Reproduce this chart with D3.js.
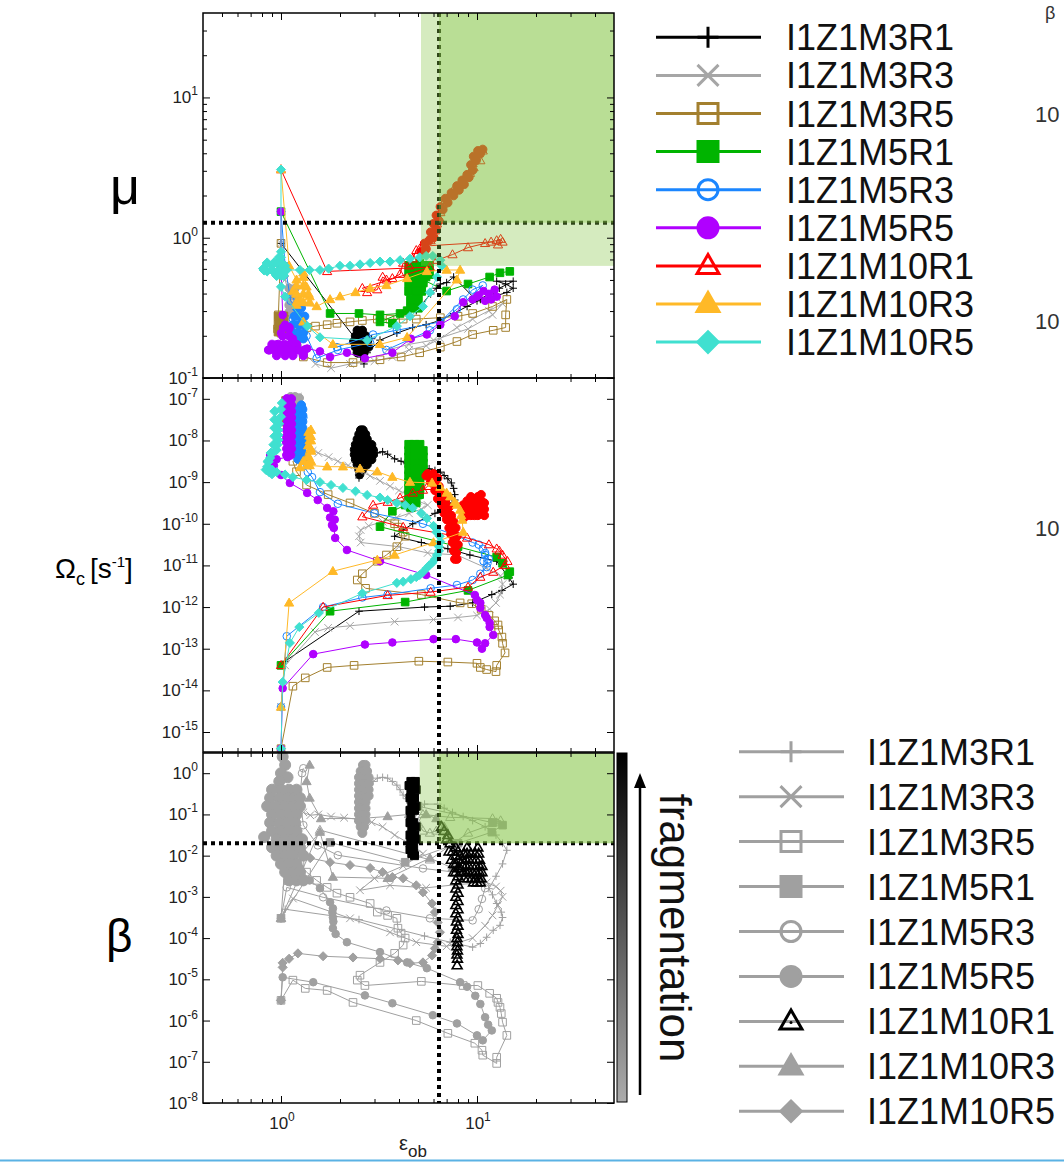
<!DOCTYPE html>
<html>
<head>
<meta charset="utf-8">
<script src="https://cdn.jsdelivr.net/npm/d3@7"></script>
<style>
  body { margin: 0; background: #fff; }
  svg { display: block; font-family: "Liberation Sans", Arial, Helvetica, sans-serif; }
</style>
</head>
<body>
<div id="chart"></div>
<script>
// ---- series ----
var seriesNames = ['I1Z1M3R1', 'I1Z1M3R3', 'I1Z1M3R5', 'I1Z1M5R1', 'I1Z1M5R3', 'I1Z1M5R5', 'I1Z1M10R1', 'I1Z1M10R3', 'I1Z1M10R5'];
var seriesColors = ['#000000', '#a6a6a6', '#a3802f', '#00b400', '#1b86ff', '#b000ff', '#ff0000', '#ffb927', '#40e0d0'];
var seriesSymbols = ['plus', 'cross', 'square', 'squareFill', 'circle', 'circleFill', 'triangle', 'triangleFill', 'diamondFill'];
var clusterSymbols = ['circleFill', 'circleFill', 'squareFill', 'squareFill', 'circleFill', 'circleFill', 'circleFill', 'triangleFill', 'diamondFill'];

// ---- ticks ----
var xMajorTicks = [1, 10];
var xMinorTicks = [0.5, 0.6, 0.7, 0.8, 0.9, 2, 3, 4, 5, 6, 7, 8, 9, 20, 30, 40];
var muMajorExp = [1, 0, -1];
var muMinorTicks = [0.2, 0.3, 0.4, 0.5, 0.6, 0.7, 0.8, 0.9, 2, 3, 4, 5, 6, 7, 8, 9, 20, 30];
var omegaMajorExp = [-7, -8, -9, -10, -11, -12, -13, -14, -15];
var betaMajorExp = [0, -1, -2, -3, -4, -5, -6, -7, -8];

// ---- thresholds ----
var epsCrit = 6.4, muCrit = 1.28, betaCrit = 0.02;
var muGreenEps = 5.18, muGreenLow = 0.63, betaGreenEps = 5.1;

// ---- top panel: [eps_ob, log10 mu] ----
var muM3R1 = [[1.0,-0.04],[2.4,-0.72],[2.5,-0.8],[2.45,-0.66],[2.6,-0.75],[2.7,-0.68],[2.8,-0.78],[2.55,-0.85],[2.65,-0.9],[2.9,-0.72],[2.5,-0.7],[2.75,-0.82],[3.2,-0.73],[3.9,-0.68],[4.7,-0.64],[5.5,-0.62],[6.47,-0.59],[7.6,-0.54],[8.9,-0.49],[10.4,-0.44],[12.1,-0.42],[14.2,-0.39],[15.3,-0.36],[14.0,-0.33],[12.6,-0.31],[15.3,-0.31],[13.0,-0.36],[10.0,-0.45],[7.6,-0.28],[7.0,-0.32],[6.5,-0.33],[6.2,-0.36],[5.8,-0.4],[5.2,-0.48],[4.9,-0.52]];
var muM3R3 = [[1.0,-0.04],[1.05,-0.3],[1.1,-0.4],[1.15,-0.35],[1.12,-0.45],[1.18,-0.5],[1.1,-0.52],[1.2,-0.42],[1.15,-0.55],[1.3,-0.82],[1.5,-0.9],[1.8,-0.93],[2.25,-0.9],[3.0,-0.88],[3.7,-0.85],[4.5,-0.8],[5.5,-0.77],[6.5,-0.72],[7.9,-0.64],[9.5,-0.58],[11.5,-0.52],[13.5,-0.47],[12.0,-0.55],[9.0,-0.65],[6.0,-0.73],[4.5,-0.76],[3.5,-0.8]];
var muM3R5 = [[1.0,-0.04],[0.97,-0.55],[1.02,-0.6],[0.96,-0.65],[1.04,-0.58],[1.0,-0.68],[0.98,-0.62],[1.05,-0.66],[1.36,-0.64],[1.5,-0.63],[1.72,-0.62],[1.93,-0.61],[2.25,-0.6],[2.6,-0.59],[3.1,-0.58],[3.6,-0.58],[4.2,-0.58],[4.9,-0.58],[6.5,-0.57],[8.0,-0.56],[9.5,-0.54],[12.0,-0.49],[14.2,-0.44],[14.0,-0.55],[14.0,-0.64],[12.1,-0.66],[9.5,-0.69],[7.9,-0.74],[6.5,-0.78],[5.1,-0.82],[4.1,-0.85],[3.2,-0.87],[2.33,-0.89],[1.72,-0.89],[1.3,-0.85]];
var muM5R1 = [[1.0,0.186],[1.78,-0.54],[2.5,-0.54],[3.2,-0.55],[4.05,-0.54],[3.2,-0.6],[3.7,-0.61],[4.4,-0.52],[4.6,-0.45],[4.5,-0.38],[4.7,-0.32],[4.5,-0.26],[4.8,-0.2],[5.1,-0.18],[5.4,-0.2],[5.5,-0.28],[5.2,-0.35],[5.0,-0.42],[4.8,-0.48],[4.6,-0.5],[5.0,-0.25],[5.3,-0.3],[7.0,-0.38],[9.0,-0.33],[11.6,-0.28],[13.1,-0.25],[14.7,-0.24]];
var muM5R3 = [[1.0,0.186],[1.05,-0.2],[1.12,-0.45],[1.2,-0.5],[1.15,-0.58],[1.25,-0.62],[1.18,-0.68],[1.3,-0.66],[1.22,-0.72],[1.35,-0.7],[1.52,-0.86],[1.95,-0.8],[2.85,-0.75],[3.45,-0.8],[5.75,-0.66],[7.9,-0.51],[10.7,-0.34],[9.5,-0.37],[8.5,-0.44],[6.5,-0.6],[3.9,-0.66],[2.95,-0.69],[1.93,-0.78]];
var muM5R5 = [[1.0,0.186],[1.0,-0.2],[1.02,-0.55],[1.05,-0.62],[1.0,-0.68],[1.1,-0.65],[1.15,-0.72],[0.86,-0.8],[0.9,-0.78],[0.95,-0.76],[1.0,-0.8],[1.05,-0.78],[1.1,-0.82],[1.2,-0.8],[1.3,-0.83],[1.36,-0.79],[1.58,-0.81],[1.78,-0.85],[2.17,-0.82],[2.68,-0.86],[3.7,-0.82],[4.6,-0.72],[5.55,-0.69],[6.5,-0.62],[7.7,-0.56],[8.5,-0.46],[9.5,-0.44],[10.2,-0.41],[10.8,-0.38],[11.5,-0.4],[12.3,-0.37],[12.6,-0.42],[11.8,-0.44],[11.0,-0.45],[10.0,-0.42]];
var muM10R1 = [[1.0,0.486],[1.72,-0.24],[5.75,-0.21],[2.6,-0.36],[2.75,-0.39],[3.1,-0.37],[3.3,-0.28],[3.45,-0.3],[3.7,-0.29],[4.05,-0.26],[4.2,-0.18],[4.5,-0.2],[4.7,-0.15],[4.9,-0.09],[5.1,-0.08],[5.3,-0.11],[6.25,-0.16],[7.5,-0.12],[9.0,-0.07],[11.0,-0.04],[12.6,-0.02],[13.2,-0.01],[13.5,-0.03],[12.8,-0.05],[11.8,-0.03],[5.3,-0.06],[5.6,-0.02],[6.0,0.03],[6.25,0.1],[6.5,0.18],[6.7,0.24],[7.2,0.3],[7.9,0.36],[8.5,0.41],[9.2,0.46],[9.5,0.53],[9.8,0.58],[10.2,0.6],[10.7,0.62],[10.4,0.55],[9.6,0.5],[8.9,0.44],[8.2,0.38],[7.5,0.33],[6.9,0.27],[6.4,0.14],[6.1,0.05],[5.8,-0.02]];
var muM10R3 = [[1.0,0.486],[1.1,-0.2],[1.2,-0.3],[1.15,-0.38],[1.25,-0.45],[1.35,-0.35],[1.3,-0.25],[1.4,-0.42],[1.2,-0.48],[1.52,-0.49],[1.78,-0.44],[2.0,-0.42],[2.4,-0.39],[2.85,-0.36],[3.45,-0.34],[4.4,-0.29],[5.55,-0.24],[7.0,-0.23],[8.2,-0.23],[7.9,-0.3],[4.4,-0.71],[3.2,-0.76],[1.84,-0.76],[1.3,-0.6]];
var muM10R5 = [[1.0,0.486],[1.0,-0.1],[0.95,-0.18],[0.85,-0.24],[0.81,-0.22],[0.9,-0.2],[1.0,-0.14],[1.05,-0.2],[1.0,-0.27],[0.95,-0.25],[1.07,-0.23],[1.25,-0.23],[1.4,-0.23],[1.58,-0.23],[1.75,-0.22],[2.0,-0.2],[2.25,-0.2],[2.53,-0.19],[2.85,-0.18],[3.2,-0.17],[3.6,-0.17],[4.05,-0.16],[4.55,-0.15],[5.1,-0.14],[5.5,-0.13],[5.95,-0.13],[6.5,-0.16],[6.6,-0.2],[6.25,-0.28],[5.75,-0.39],[5.3,-0.49],[4.55,-0.56],[3.9,-0.63],[2.75,-0.73],[1.58,-0.71],[1.36,-0.63],[1.05,-0.42],[1.0,-0.35]];
// densely overlapping marker clusters in the top panel
var muClusterM3R1 = [[2.45,-0.66],[2.6,-0.66],[2.4,-0.7],[2.5,-0.7],[2.6,-0.7],[2.7,-0.7],[2.35,-0.74],[2.45,-0.74],[2.55,-0.74],[2.65,-0.74],[2.75,-0.74],[2.4,-0.78],[2.5,-0.78],[2.6,-0.78],[2.7,-0.78],[2.8,-0.78],[2.45,-0.82],[2.55,-0.82],[2.65,-0.82]];
var muClusterM3R3 = [[1.1,-0.36],[1.18,-0.36],[1.1,-0.42],[1.18,-0.42],[1.1,-0.48],[1.18,-0.48],[1.1,-0.53],[1.18,-0.53]];
var muClusterM3R5 = [[0.97,-0.56],[1.03,-0.56],[0.97,-0.62],[1.03,-0.62],[0.97,-0.67],[1.03,-0.67]];
var muClusterM5R1 = [[4.5,-0.2],[4.9,-0.2],[5.3,-0.2],[5.7,-0.2],[4.5,-0.26],[4.9,-0.26],[5.3,-0.26],[5.7,-0.26],[4.5,-0.32],[4.9,-0.32],[5.3,-0.32],[4.5,-0.38],[4.9,-0.38],[5.2,-0.38],[4.6,-0.44],[5.0,-0.44],[4.6,-0.5],[5.0,-0.5]];
var muClusterM5R3 = [[1.2,-0.5],[1.27,-0.5],[1.17,-0.56],[1.25,-0.56],[1.32,-0.56],[1.15,-0.62],[1.23,-0.62],[1.31,-0.62],[1.15,-0.68],[1.23,-0.68],[1.3,-0.68],[1.2,-0.72],[1.3,-0.72]];
var muClusterM5R5 = [[1.03,-0.64],[1.1,-0.64],[1.02,-0.7],[1.1,-0.7],[0.9,-0.76],[0.97,-0.76],[1.04,-0.76],[1.12,-0.76],[1.2,-0.76],[0.87,-0.8],[0.93,-0.8],[1.0,-0.8],[1.07,-0.8],[1.15,-0.8],[1.23,-0.8],[1.32,-0.8],[0.95,-0.84],[1.05,-0.84],[1.15,-0.84],[1.3,-0.84]];
var muClusterM10R1 = [[5.2,-0.1],[5.5,-0.08],[5.4,-0.04],[5.7,-0.02],[5.8,0.04],[6.0,0.0],[6.0,0.1],[6.2,0.06],[6.2,0.16],[6.4,0.12],[6.5,0.22],[6.7,0.2],[6.9,0.28],[7.1,0.25],[7.4,0.32],[7.6,0.3],[7.9,0.37],[8.1,0.34],[8.4,0.41],[8.6,0.38],[8.9,0.45],[9.1,0.43],[9.3,0.52],[9.5,0.48],[9.6,0.58],[9.9,0.55],[10.1,0.62],[10.4,0.6],[10.7,0.63]];
var muClusterM10R3 = [[1.3,-0.28],[1.2,-0.34],[1.3,-0.34],[1.2,-0.4],[1.3,-0.4],[1.38,-0.4],[1.2,-0.46],[1.3,-0.46],[1.4,-0.46]];
var muClusterM10R5 = [[0.98,-0.14],[0.85,-0.18],[0.92,-0.18],[1.0,-0.18],[0.82,-0.23],[0.9,-0.23],[0.98,-0.23],[1.05,-0.23],[0.95,-0.27],[1.03,-0.27]];

// ---- middle panel: [eps_ob, log10 Omega_c] ----
var omegaM3R1 = [[1.0,-13.4],[1.05,-13.3],[2.5,-12.1],[5.4,-12.0],[7.3,-11.98],[9.5,-11.9],[11.9,-11.7],[13.4,-11.6],[15.3,-11.45],[14.6,-11.3],[12.6,-10.9],[9.2,-10.75],[7.1,-10.6],[5.2,-10.45],[3.8,-10.3],[4.2,-10.15],[4.7,-10.0],[5.5,-9.86],[6.1,-9.75],[6.7,-9.62],[7.2,-9.52],[7.7,-9.43],[7.7,-9.3],[7.6,-9.15],[7.4,-9.02],[7.1,-8.92],[6.8,-8.84],[6.5,-8.76],[6.1,-8.72],[5.7,-8.68],[5.2,-8.66],[4.8,-8.62],[4.4,-8.56],[4.1,-8.5],[3.8,-8.44],[3.5,-8.33],[3.3,-8.27],[3.1,-8.3],[2.95,-8.4],[2.8,-8.55],[2.65,-8.7],[2.55,-8.8],[2.5,-8.9]];
var omegaM3R3 = [[1.0,-14.4],[1.05,-13.4],[1.49,-12.6],[1.74,-12.5],[2.25,-12.45],[3.8,-12.35],[6.0,-12.3],[8.0,-12.25],[10.0,-12.2],[11.6,-12.05],[12.5,-11.9],[13.1,-11.7],[13.5,-11.45],[13.2,-11.25],[11.0,-11.05],[7.9,-10.75],[5.6,-10.7],[4.0,-10.55],[2.55,-10.45],[2.5,-10.3],[2.55,-10.15],[2.8,-10.05],[3.3,-9.95],[3.9,-9.85],[4.5,-9.75],[5.2,-9.65],[5.6,-9.55],[5.0,-9.45],[4.4,-9.3],[4.0,-9.2],[3.6,-9.1],[3.2,-8.97],[2.85,-8.85],[2.5,-8.72],[2.2,-8.6],[1.95,-8.5],[1.75,-8.4],[1.55,-8.3],[1.45,-8.25],[1.35,-8.3],[1.3,-8.2],[1.25,-7.9],[1.22,-7.6],[1.2,-7.3],[1.18,-7.1],[1.22,-6.95],[1.25,-7.05],[1.15,-7.0]];
var omegaM3R5 = [[1.0,-15.4],[1.15,-13.9],[1.33,-13.7],[1.72,-13.45],[2.36,-13.4],[5.05,-13.3],[7.1,-13.32],[10.0,-13.35],[10.4,-13.45],[11.2,-13.5],[12.5,-13.55],[12.6,-13.4],[13.9,-13.1],[13.5,-12.87],[13.4,-12.72],[12.9,-12.55],[12.8,-12.43],[12.3,-12.33],[11.5,-12.2],[10.5,-12.05],[9.4,-11.92],[8.2,-11.9],[5.2,-11.7],[2.7,-11.55],[2.45,-11.35],[2.6,-11.2],[3.1,-10.9],[3.45,-10.75],[3.9,-10.55],[4.3,-10.3],[4.2,-10.2],[3.95,-10.08],[3.8,-10.0],[3.0,-9.75],[2.25,-9.5],[1.74,-9.3],[1.35,-9.07],[1.2,-8.75],[1.15,-8.5],[1.3,-8.4],[1.35,-8.35],[1.2,-8.2],[1.1,-7.9],[1.08,-7.6],[1.07,-7.4],[1.06,-7.2],[1.07,-7.05]];
var omegaM5R1 = [[1.0,-13.4],[1.78,-12.1],[4.3,-11.88],[9.0,-11.6],[14.4,-11.23],[14.7,-11.15],[13.5,-10.95],[12.6,-10.8],[8.0,-10.55],[3.2,-10.07],[3.7,-9.7],[4.3,-9.55],[4.6,-9.4],[4.9,-9.5],[5.1,-9.3],[4.5,-9.2],[4.6,-9.0],[4.8,-9.1],[5.1,-8.95],[4.5,-8.8],[4.7,-8.6],[5.0,-8.7],[5.3,-8.8],[4.5,-8.4],[4.7,-8.2],[5.0,-8.15],[5.2,-8.3],[5.3,-8.55],[4.6,-8.1]];
var omegaM5R3 = [[1.0,-14.4],[1.07,-12.7],[1.64,-12.0],[2.6,-11.77],[3.5,-11.7],[5.8,-11.55],[7.9,-11.47],[9.5,-11.35],[10.4,-11.2],[11.2,-11.04],[11.3,-10.95],[10.8,-10.9],[11.0,-10.75],[11.5,-10.85],[11.0,-10.7],[10.7,-10.6],[10.2,-10.5],[9.5,-10.45],[7.5,-10.25],[5.3,-10.0],[3.0,-9.75],[1.95,-9.52],[1.58,-9.24],[1.44,-8.88],[1.37,-8.76],[1.3,-8.6],[1.28,-8.4],[1.32,-8.2],[1.28,-8.0],[1.3,-7.8],[1.26,-7.6],[1.3,-7.45],[1.28,-7.3],[1.25,-7.2]];
var omegaM5R5 = [[1.0,-15.4],[1.02,-13.95],[1.46,-13.13],[2.68,-12.9],[3.7,-12.85],[6.0,-12.77],[7.8,-12.77],[10.0,-12.85],[10.6,-13.0],[11.0,-12.87],[12.1,-12.67],[11.6,-12.48],[11.6,-12.38],[11.2,-12.26],[11.0,-12.19],[10.4,-12.02],[10.4,-11.9],[10.0,-11.83],[9.75,-11.71],[5.5,-11.23],[3.2,-10.9],[2.17,-10.63],[1.89,-10.34],[1.86,-10.1],[1.82,-10.03],[1.88,-9.9],[1.78,-9.85],[1.85,-9.7],[1.72,-9.62],[1.54,-9.43],[1.36,-9.26],[1.11,-9.02],[1.0,-8.83],[0.92,-8.6],[0.88,-8.35],[0.95,-8.45],[1.08,-8.4],[1.1,-8.2],[1.06,-8.0],[1.12,-7.8],[1.08,-7.6],[1.1,-7.4],[1.07,-7.2],[1.1,-7.05]];
var omegaM10R1 = [[1.0,-13.4],[1.64,-12.0],[3.5,-11.72],[5.8,-11.64],[9.0,-11.52],[10.4,-11.28],[12.1,-11.16],[13.9,-11.0],[14.3,-10.9],[13.5,-10.75],[13.0,-10.65],[12.6,-10.6],[11.5,-10.5],[8.9,-10.34],[4.2,-10.08],[2.6,-9.83],[2.95,-9.55],[3.5,-9.48],[4.05,-9.38],[4.7,-9.26],[5.3,-9.19],[5.6,-9.1],[5.8,-8.95]];
var omegaM10R3 = [[1.0,-14.4],[1.1,-11.9],[1.84,-11.14],[3.1,-10.87],[3.8,-10.75],[6.0,-10.45],[8.5,-10.2],[8.4,-9.91],[8.3,-9.8],[8.2,-9.67],[7.9,-9.55],[7.7,-9.48],[7.3,-9.35],[7.0,-9.26],[6.5,-9.12],[5.9,-9.02],[4.55,-9.0],[3.7,-8.88],[3.1,-8.75],[2.53,-8.68],[2.07,-8.63],[1.72,-8.63],[1.4,-8.6],[1.38,-8.4],[1.42,-8.2],[1.4,-8.0],[1.38,-7.8],[1.42,-7.9],[1.3,-8.5],[1.25,-8.65]];
var omegaM10R5 = [[1.0,-15.4],[1.02,-13.8],[1.11,-12.86],[1.24,-12.48],[1.56,-12.14],[2.6,-11.67],[3.9,-11.42],[4.2,-11.39],[4.6,-11.33],[4.9,-11.28],[5.1,-11.23],[5.3,-11.16],[5.55,-11.06],[5.7,-11.0],[5.9,-10.94],[6.1,-10.85],[6.25,-10.75],[6.4,-10.65],[6.4,-10.55],[6.5,-10.43],[6.45,-10.3],[6.2,-10.2],[6.0,-10.05],[5.55,-9.87],[5.2,-9.75],[4.7,-9.62],[4.3,-9.55],[3.9,-9.5],[3.5,-9.43],[3.2,-9.37],[2.75,-9.31],[2.4,-9.22],[2.07,-9.14],[1.8,-9.07],[1.58,-9.0],[1.35,-8.95],[1.15,-8.88],[1.05,-8.82],[0.95,-8.76],[0.9,-8.7],[0.85,-8.63],[0.86,-8.52],[0.88,-8.42],[0.9,-8.32],[0.95,-8.23],[0.96,-8.1],[0.97,-7.99],[0.97,-7.87],[0.97,-7.75],[0.98,-7.6],[1.0,-7.43],[1.0,-7.25],[1.01,-7.1]];
// densely overlapping marker clusters in the middle panel
var omegaClusterM3R1 = [[2.55,-7.75],[2.62,-7.75],[2.5,-7.85],[2.6,-7.85],[2.7,-7.85],[2.45,-7.97],[2.55,-7.97],[2.65,-7.97],[2.75,-7.97],[2.4,-8.1],[2.5,-8.1],[2.6,-8.1],[2.7,-8.1],[2.8,-8.1],[2.9,-8.1],[2.37,-8.22],[2.47,-8.22],[2.57,-8.22],[2.67,-8.22],[2.77,-8.22],[2.87,-8.22],[2.95,-8.22],[2.37,-8.34],[2.47,-8.34],[2.57,-8.34],[2.67,-8.34],[2.77,-8.34],[2.87,-8.34],[2.95,-8.34],[2.4,-8.46],[2.5,-8.46],[2.6,-8.46],[2.7,-8.46],[2.8,-8.46],[2.9,-8.46],[2.45,-8.58],[2.55,-8.58],[2.65,-8.58],[2.75,-8.58],[2.5,-8.7],[2.6,-8.7],[2.52,-8.82]];
var omegaClusterM3R3 = [[1.12,-6.95],[1.18,-6.95],[1.24,-6.98],[1.15,-7.05],[1.21,-7.08],[1.18,-7.15]];
var omegaClusterM3R5 = [[1.06,-7.05],[1.07,-7.18],[1.07,-7.3],[1.08,-7.42],[1.06,-7.55]];
var omegaClusterM5R1 = [[4.5,-8.1],[4.8,-8.1],[5.1,-8.1],[4.5,-8.25],[4.8,-8.25],[5.1,-8.25],[5.3,-8.25],[4.5,-8.4],[4.8,-8.4],[5.1,-8.4],[5.3,-8.4],[4.5,-8.55],[4.8,-8.55],[5.1,-8.55],[5.3,-8.55],[4.5,-8.7],[4.8,-8.7],[5.1,-8.7],[5.3,-8.7],[4.5,-8.85],[4.8,-8.85],[5.1,-8.85],[4.5,-9.0],[4.8,-9.0],[5.1,-9.0],[4.5,-9.15],[4.8,-9.15],[5.1,-9.15],[4.5,-9.3],[4.8,-9.3],[5.0,-9.3],[4.5,-9.45],[4.8,-9.45],[4.6,-9.6]];
var omegaClusterM5R3 = [[1.27,-7.15],[1.22,-7.25],[1.29,-7.25],[1.22,-7.4],[1.29,-7.4],[1.22,-7.55],[1.29,-7.55],[1.22,-7.7],[1.29,-7.7],[1.22,-7.85],[1.29,-7.85],[1.22,-8.0],[1.29,-8.0],[1.22,-8.15],[1.29,-8.15],[1.22,-8.3],[1.29,-8.3],[1.22,-8.45],[1.29,-8.45]];
var omegaClusterM5R5 = [[1.07,-7.0],[1.13,-7.0],[1.07,-7.15],[1.13,-7.15],[1.07,-7.3],[1.13,-7.3],[1.07,-7.45],[1.13,-7.45],[1.07,-7.6],[1.13,-7.6],[1.07,-7.75],[1.13,-7.75],[1.07,-7.9],[1.13,-7.9],[1.07,-8.05],[1.13,-8.05],[1.07,-8.2],[1.13,-8.2],[1.07,-8.35],[1.12,-8.35]];
var omegaClusterM10R1 = [[5.6,-8.8],[6.0,-8.8],[6.3,-8.9],[5.5,-8.85],[5.8,-8.85],[6.1,-8.95],[5.8,-9.0],[6.1,-9.05],[6.4,-9.1],[6.1,-9.2],[6.4,-9.25],[6.7,-9.3],[6.3,-9.4],[6.6,-9.4],[6.9,-9.45],[6.6,-9.55],[6.9,-9.6],[7.2,-9.6],[6.8,-9.75],[7.1,-9.75],[7.4,-9.8],[7.0,-9.9],[7.3,-9.95],[7.6,-9.95],[7.2,-10.1],[7.5,-10.1],[7.8,-10.1],[7.35,-10.25],[7.65,-10.3],[7.9,-10.3],[7.5,-10.45],[7.75,-10.5],[8.0,-10.5],[7.6,-10.65],[7.85,-10.7],[7.7,-10.85],[7.9,-10.85],[8.9,-9.8],[10.1,-9.8],[8.5,-9.55],[8.5,-9.7],[8.6,-9.85],[8.9,-9.45],[8.9,-9.6],[9.3,-9.35],[9.3,-9.5],[9.3,-9.65],[9.3,-9.8],[9.7,-9.5],[9.7,-9.65],[9.7,-9.8],[10.1,-9.35],[10.1,-9.5],[10.1,-9.65],[10.5,-9.3],[10.5,-9.45],[10.5,-9.6],[10.5,-9.75],[10.9,-9.5],[10.9,-9.65],[10.9,-9.8]];
var omegaClusterM10R3 = [[1.42,-7.75],[1.4,-7.88],[1.42,-8.0],[1.38,-8.12],[1.42,-8.25],[1.38,-8.38],[1.42,-8.5],[1.36,-8.6]];
var omegaClusterM10R5 = [[0.93,-7.3],[0.93,-7.5],[0.93,-7.7],[0.93,-7.9],[0.92,-8.1],[0.89,-8.3],[0.86,-8.5],[0.84,-8.7],[0.9,-8.8],[0.87,-8.75]];

// ---- bottom panel: [eps_ob, log10 beta] ----
var betaM3R1 = [[1.0,-3.52],[1.05,-3.3],[2.5,-3.55],[5.4,-3.95],[7.3,-4.1],[9.5,-4.22],[10.4,-4.13],[11.2,-3.98],[12.1,-3.81],[13.1,-3.69],[13.5,-3.5],[13.3,-3.37],[12.6,-3.16],[12.0,-2.95],[11.5,-2.8],[12.5,-2.5],[13.5,-2.2],[14.2,-1.87],[13.5,-1.7],[12.5,-1.5],[11.0,-1.3],[9.5,-1.15],[8.5,-1.05],[7.5,-0.95],[6.8,-0.85],[6.3,-0.75],[5.4,-0.75],[4.9,-0.95],[4.7,-0.85],[4.55,-0.73],[4.4,-0.62],[4.2,-0.53],[4.05,-0.4],[3.9,-0.29],[3.7,-0.2],[3.5,-0.12],[3.3,-0.1],[3.1,-0.12],[2.95,-0.2],[2.8,-0.29],[2.7,-0.4]];
var betaM3R3 = [[1.0,-3.52],[1.15,-3.04],[2.25,-3.52],[3.6,-3.86],[4.9,-4.1],[7.0,-4.2],[9.5,-4.0],[11.0,-3.7],[12.0,-3.45],[12.8,-3.2],[13.5,-3.0],[13.2,-2.85],[12.5,-2.75],[11.2,-2.65],[8.0,-2.7],[5.5,-2.78],[3.6,-2.72],[2.53,-2.84],[3.0,-2.55],[4.2,-2.25],[5.3,-1.95],[4.5,-1.7],[3.8,-1.5],[3.3,-1.3],[2.9,-1.19],[2.5,-1.12],[2.1,-1.08],[1.8,-1.05],[1.55,-1.0],[1.41,-1.02],[1.3,-0.95]];
var betaM3R5 = [[1.0,-5.51],[1.15,-5.02],[1.33,-5.22],[1.72,-5.27],[2.33,-5.56],[4.9,-6.0],[7.1,-6.31],[9.75,-6.55],[10.6,-6.72],[10.7,-6.84],[12.6,-7.04],[12.6,-6.89],[14.2,-6.36],[13.5,-6.04],[13.3,-5.83],[13.1,-5.68],[12.8,-5.56],[12.6,-5.46],[11.6,-5.34],[10.1,-5.15],[8.5,-5.15],[5.2,-5.05],[2.68,-5.15],[2.45,-5.02],[2.53,-4.9],[3.2,-4.59],[3.8,-4.37],[4.2,-4.17],[4.3,-4.0],[4.1,-3.88],[3.95,-3.76],[3.9,-3.52],[3.5,-3.45],[3.1,-3.37],[2.85,-3.16],[2.25,-3.01],[1.93,-2.91],[1.72,-2.77],[1.52,-2.6],[1.35,-2.4],[1.25,-2.2]];
var betaM5R1 = [[1.0,-3.52],[1.78,-1.68],[4.3,-2.16],[8.0,-1.7],[11.9,-1.43],[13.5,-1.26],[12.0,-1.2],[5.0,-0.8],[4.7,-0.7]];
var betaM5R3 = [[1.0,-3.52],[1.07,-2.77],[1.64,-3.01],[3.45,-3.33],[5.75,-3.52],[9.5,-3.57],[10.2,-3.3],[10.6,-3.05],[11.0,-2.79],[10.5,-2.6],[9.5,-2.45],[5.3,-2.31],[1.95,-1.99],[1.54,-1.75],[1.3,-1.26],[1.25,-0.6],[1.28,0.0],[1.3,0.12]];
var betaM5R5 = [[1.0,-5.51],[1.02,-4.95],[1.46,-5.07],[2.68,-5.39],[3.7,-5.58],[5.95,-5.87],[7.9,-6.07],[10.0,-6.36],[10.7,-6.48],[11.9,-6.24],[11.4,-6.1],[11.0,-5.92],[10.4,-5.6],[9.8,-5.4],[8.9,-5.18],[8.2,-5.07],[5.55,-4.73],[4.4,-4.59],[3.2,-4.34],[2.17,-4.1],[1.9,-3.9],[1.84,-3.76],[1.85,-3.6],[1.84,-3.5],[1.83,-3.38],[1.84,-3.28],[1.78,-3.13],[1.58,-2.79],[1.4,-2.6],[1.25,-2.3]];
var betaM10R1 = [[1.0,-3.52],[1.58,-1.38],[5.75,-2.1],[9.0,-1.45],[12.6,-1.2],[13.2,-1.15],[12.0,-1.1],[7.3,-1.07],[5.3,-1.0],[5.0,-1.2],[5.3,-1.4],[5.75,-1.45],[6.2,-1.4],[6.5,-1.35]];
var betaM10R3 = [[1.0,-3.52],[1.1,-0.8],[1.2,-1.2],[1.15,-1.6],[1.3,-1.9],[1.58,-1.43],[1.84,-2.52],[3.5,-2.55],[5.75,-2.06],[7.5,-2.3],[8.2,-2.55],[8.0,-2.2],[7.8,-1.9],[7.3,-1.6],[6.8,-1.3],[6.2,-1.1],[5.5,-1.0],[4.5,-1.0],[3.5,-1.05],[2.5,-1.1],[1.6,-1.1],[1.4,-0.6],[1.35,-0.2],[1.4,0.2]];
var betaM10R5 = [[1.0,-5.51],[1.02,-4.71],[1.02,-4.6],[1.1,-4.5],[1.22,-4.37],[1.64,-4.44],[2.33,-4.47],[3.2,-4.5],[3.95,-4.54],[4.55,-4.61],[5.3,-4.59],[5.9,-4.42],[6.1,-4.25],[6.3,-4.1],[6.47,-3.86],[6.3,-3.62],[6.1,-3.37],[5.9,-3.16],[5.3,-2.89],[4.9,-2.72],[4.2,-2.55],[3.7,-2.52],[3.3,-2.4],[2.85,-2.3],[2.25,-2.23],[1.78,-2.16],[1.41,-2.06],[1.2,-1.9]];
// dense clusters in the bottom panel
var betaClusterLeft = [[1.02,0.4],[1.05,0.2],[1.0,0.0],[1.08,-0.1],[0.98,-0.2],[0.9,-0.4],[1.0,-0.4],[1.1,-0.4],[1.2,-0.4],[0.88,-0.6],[0.98,-0.6],[1.08,-0.6],[1.18,-0.6],[1.25,-0.6],[0.85,-0.8],[0.95,-0.8],[1.05,-0.8],[1.15,-0.8],[1.25,-0.8],[0.9,-1.0],[1.0,-1.0],[1.1,-1.0],[1.2,-1.0],[0.88,-1.2],[0.98,-1.2],[1.08,-1.2],[1.18,-1.2],[0.9,-1.4],[1.0,-1.4],[1.1,-1.4],[1.2,-1.4],[0.82,-1.55],[0.95,-1.6],[1.05,-1.6],[1.15,-1.6],[1.28,-1.6],[0.9,-1.8],[1.0,-1.8],[1.1,-1.8],[1.25,-1.8],[0.95,-2.0],[1.05,-2.0],[1.15,-2.0],[1.3,-2.0],[1.0,-2.2],[1.1,-2.2],[1.2,-2.2],[1.05,-2.4],[1.15,-2.4],[1.25,-2.4],[1.1,-2.6],[1.2,-2.6],[1.3,-2.6]];
var betaClusterM3R1 = [[2.62,0.2],[2.7,0.2],[2.55,0.05],[2.65,0.05],[2.75,0.05],[2.5,-0.1],[2.6,-0.1],[2.7,-0.1],[2.8,-0.1],[2.5,-0.25],[2.6,-0.25],[2.7,-0.25],[2.8,-0.25],[2.5,-0.4],[2.6,-0.4],[2.7,-0.4],[2.8,-0.4],[2.5,-0.55],[2.6,-0.55],[2.7,-0.55],[2.8,-0.55],[2.5,-0.7],[2.6,-0.7],[2.7,-0.7],[2.5,-0.85],[2.6,-0.85],[2.7,-0.85],[2.5,-1.0],[2.6,-1.0],[2.7,-1.0],[2.5,-1.15],[2.6,-1.15],[2.7,-1.15],[2.55,-1.3],[2.65,-1.3],[2.6,-1.45]];
// fragmenting parts, drawn dark
var betaDarkM5R1 = [[4.6,-0.2],[4.75,-0.3],[4.6,-0.45],[4.8,-0.6],[4.65,-0.75],[4.8,-0.9],[4.6,-1.05],[4.75,-1.2],[4.65,-1.35],[4.8,-1.5],[4.6,-1.65],[4.75,-1.8],[4.65,-1.95],[4.8,-2.0],[4.55,-1.85],[4.9,-1.6],[4.55,-1.2],[4.9,-0.4],[4.55,-0.6],[4.9,-0.8],[4.55,-0.9],[4.9,-1.3],[4.55,-1.5],[4.85,-0.2],[4.5,-0.3]];
var betaDarkM10R1 = [[6.6,-1.3],[6.8,-1.4],[7.1,-1.5],[7.0,-1.6],[7.3,-1.7],[7.2,-1.9],[7.5,-1.9],[7.4,-2.1],[7.6,-2.2],[7.6,-2.4],[8.2,-2.0],[8.2,-2.3],[7.8,-1.8],[8.0,-1.9],[7.8,-2.0],[8.0,-2.1],[7.8,-2.2],[8.0,-2.3],[7.8,-2.4],[8.0,-2.5],[7.8,-2.6],[8.0,-2.7],[7.8,-2.8],[8.0,-2.9],[7.8,-3.0],[8.0,-3.1],[7.8,-3.2],[8.0,-3.3],[7.8,-3.4],[8.0,-3.5],[7.85,-3.6],[8.0,-3.7],[7.85,-3.8],[8.0,-3.9],[7.9,-4.0],[7.95,-4.1],[7.9,-4.2],[7.95,-4.3],[7.9,-4.4],[7.95,-4.5],[7.92,-4.66],[8.9,-1.8],[10.1,-1.8],[8.6,-1.95],[8.9,-1.95],[9.3,-1.95],[9.8,-1.95],[10.2,-1.95],[8.5,-2.1],[8.8,-2.1],[9.1,-2.1],[9.5,-2.1],[9.9,-2.1],[10.3,-2.1],[8.5,-2.25],[8.8,-2.25],[9.1,-2.25],[9.5,-2.25],[9.9,-2.25],[10.3,-2.25],[10.6,-2.25],[8.5,-2.4],[8.8,-2.4],[9.1,-2.4],[9.5,-2.4],[9.9,-2.4],[10.3,-2.4],[10.6,-2.4],[8.6,-2.55],[9.0,-2.55],[9.4,-2.55],[9.8,-2.55],[10.2,-2.55],[10.5,-2.55],[9.6,-2.65],[10.0,-2.65],[10.4,-2.65]];

var muSeries = [muM3R1, muM3R3, muM3R5, muM5R1, muM5R3, muM5R5, muM10R1, muM10R3, muM10R5];
var muClusters = [muClusterM3R1, muClusterM3R3, muClusterM3R5, muClusterM5R1, muClusterM5R3, muClusterM5R5, muClusterM10R1, muClusterM10R3, muClusterM10R5];
var omegaSeries = [omegaM3R1, omegaM3R3, omegaM3R5, omegaM5R1, omegaM5R3, omegaM5R5, omegaM10R1, omegaM10R3, omegaM10R5];
var omegaClusters = [omegaClusterM3R1, omegaClusterM3R3, omegaClusterM3R5, omegaClusterM5R1, omegaClusterM5R3, omegaClusterM5R5, omegaClusterM10R1, omegaClusterM10R3, omegaClusterM10R5];
var betaSeries = [betaM3R1, betaM3R3, betaM3R5, betaM5R1, betaM5R3, betaM5R5, betaM10R1, betaM10R3, betaM10R5];

// ---- layout ----
var W = 1064, H = 1162;
var left = 203, right = 614;
var svg = d3.select('#chart').append('svg').attr('width', W).attr('height', H);

var x = d3.scaleLog().domain([0.4, 50]).range([left, right]);
var yMu = d3.scaleLog().domain([0.1, 40]).range([378, 13]);
var yOmega = d3.scaleLog().domain([Math.pow(10, -15.48), Math.pow(10, -6.5)]).range([752, 378]);
var yBeta = d3.scaleLog().domain([1e-8, Math.pow(10, 0.49)]).range([1103, 753]);

function symbolPath(type, s) {
    switch (type) {
    case 'plus': return 'M' + (-s) + ',0H' + s + 'M0,' + (-s) + 'V' + s;
    case 'cross': return 'M' + (-s) + ',' + (-s) + 'L' + s + ',' + s + 'M' + (-s) + ',' + s + 'L' + s + ',' + (-s);
    case 'square': case 'squareFill': return 'M' + (-s) + ',' + (-s) + 'H' + s + 'V' + s + 'H' + (-s) + 'Z';
    case 'circle': case 'circleFill': return 'M' + s + ',0A' + s + ',' + s + ' 0 1,1 ' + (-s) + ',0A' + s + ',' + s + ' 0 1,1 ' + s + ',0Z';
    case 'triangle': case 'triangleFill': return 'M0,' + (-s * 1.2) + 'L' + (s * 1.15) + ',' + (s * 0.8) + 'H' + (-s * 1.15) + 'Z';
    case 'diamondFill': return 'M0,' + (-s * 1.2) + 'L' + (s * 1.2) + ',0L0,' + (s * 1.2) + 'L' + (-s * 1.2) + ',0Z';
    }
}
function isFilled(type) { return /Fill$/.test(type); }

function drawSeries(g, pts, yScale, type, color, lineColor, size, noLine, sw) {
    var px = function (d) { return x(d[0]); };
    var py = function (d) { return yScale(Math.pow(10, d[1])); };
    if (!noLine) {
        g.append('path')
            .attr('d', d3.line().x(px).y(py)(pts))
            .attr('fill', 'none')
            .attr('stroke', lineColor)
            .attr('stroke-width', 1);
    }
    g.selectAll(null).data(pts).enter().append('path')
        .attr('transform', function (d) { return 'translate(' + px(d) + ',' + py(d) + ')'; })
        .attr('d', symbolPath(type, size))
        .attr('fill', isFilled(type) ? color : 'none')
        .attr('stroke', color)
        .attr('stroke-width', sw || 1);
}

// ---- data ----
var gData = svg.append('g');
seriesNames.forEach(function (name, i) {
    var sz = /triangle/.test(seriesSymbols[i]) ? 4 : 3.8;
    drawSeries(gData, muSeries[i], yMu, seriesSymbols[i], seriesColors[i], seriesColors[i], sz);
    drawSeries(gData, muClusters[i], yMu, clusterSymbols[i], seriesColors[i], null, 4.2, true);
    drawSeries(gData, omegaSeries[i], yOmega, seriesSymbols[i], seriesColors[i], seriesColors[i], sz);
    drawSeries(gData, omegaClusters[i], yOmega, clusterSymbols[i], seriesColors[i], null, 4.2, true);
});
var grey = '#a0a0a0';
seriesNames.forEach(function (name, i) {
    var sz = /triangle/.test(seriesSymbols[i]) ? 4 : 3.8;
    drawSeries(gData, betaSeries[i], yBeta, seriesSymbols[i], grey, grey, sz);
});
drawSeries(gData, betaClusterLeft, yBeta, 'circleFill', grey, null, 5.5, true);
drawSeries(gData, betaClusterM3R1, yBeta, 'circleFill', grey, null, 4.5, true);
drawSeries(gData, betaDarkM5R1, yBeta, 'squareFill', '#000', null, 4, true);
drawSeries(gData, betaDarkM10R1, yBeta, 'triangle', '#000', null, 4.3, true, 1.6);

// ---- critical lines ----
function dottedLine(x1, y1, x2, y2) {
    svg.append('line').attr('x1', x1).attr('y1', y1).attr('x2', x2).attr('y2', y2)
        .attr('stroke', '#000').attr('stroke-width', 4).attr('stroke-dasharray', '4,4');
}
dottedLine(left, yMu(muCrit), right, yMu(muCrit));
dottedLine(left, yBeta(betaCrit), right, yBeta(betaCrit));
dottedLine(x(epsCrit), 13, x(epsCrit), 1103);

// ---- green (semi transparent) regions ----
var greenFill = 'rgba(135,198,72,0.35)';
function greenRect(x0, y0, y1) {
    svg.append('rect').attr('x', x0).attr('y', y0).attr('width', right - x0).attr('height', y1 - y0).attr('fill', greenFill);
}
greenRect(x(muGreenEps), 13, yMu(muGreenLow));
greenRect(x(epsCrit), 13, yMu(muCrit));
greenRect(x(betaGreenEps), 753, yBeta(betaCrit));
greenRect(x(epsCrit), 753, yBeta(betaCrit));

// ---- frames and ticks ----
function tickAxis(axisFn, scale, values, size, tx, ty) {
    svg.append('g').attr('transform', 'translate(' + tx + ',' + ty + ')')
        .call(axisFn(scale).tickValues(values).tickSize(size).tickSizeOuter(0).tickFormat(''))
        .call(function (a) {
            a.select('.domain').remove();
            a.selectAll('line').attr('stroke', '#000').attr('stroke-width', 1);
        });
}
function expLabel(sel, exp) {
    sel.append('tspan').text('10');
    sel.append('tspan').attr('dy', -8).attr('font-size', 12).text(exp);
}
function panel(yScale, top, bottom, majorExp, minorVals) {
    var majors = majorExp.map(function (e) { return Math.pow(10, e); });
    tickAxis(d3.axisBottom, x, xMajorTicks, -7, 0, bottom);
    tickAxis(d3.axisBottom, x, xMinorTicks, -4, 0, bottom);
    tickAxis(d3.axisTop, x, xMajorTicks, -7, 0, top);
    tickAxis(d3.axisTop, x, xMinorTicks, -4, 0, top);
    tickAxis(d3.axisLeft, yScale, majors, -7, left, 0);
    tickAxis(d3.axisRight, yScale, majors, -7, right, 0);
    if (minorVals) {
        tickAxis(d3.axisLeft, yScale, minorVals, -4, left, 0);
        tickAxis(d3.axisRight, yScale, minorVals, -4, right, 0);
    }
    svg.append('rect').attr('x', left).attr('y', top).attr('width', right - left).attr('height', bottom - top)
        .attr('fill', 'none').attr('stroke', '#000').attr('stroke-width', 1.5);
    majorExp.forEach(function (e) {
        var t = svg.append('text').attr('x', 198).attr('y', yScale(Math.pow(10, e)) + 6)
            .attr('text-anchor', 'end').attr('font-size', 17).attr('fill', '#222');
        expLabel(t, e);
    });
}
panel(yMu, 13, 378, muMajorExp, muMinorTicks);
panel(yOmega, 378, 752, omegaMajorExp, null);
panel(yBeta, 753, 1103, betaMajorExp, null);

xMajorTicks.forEach(function (v) {
    var t = svg.append('text').attr('x', x(v) + 1).attr('y', 1129).attr('text-anchor', 'middle')
        .attr('font-size', 17).attr('fill', '#222');
    expLabel(t, Math.round(Math.log10(v)));
});
var xl = svg.append('text').attr('x', 399).attr('y', 1150).attr('font-size', 20).attr('fill', '#222');
xl.append('tspan').text('\u03b5');
xl.append('tspan').attr('dy', 7).attr('font-size', 17).text('ob');

// ---- panel labels ----
svg.append('text').attr('x', 110).attr('y', 204).attr('font-size', 52).text('\u03bc');
var om = svg.append('text').attr('x', 55).attr('y', 578).attr('font-size', 28);
om.append('tspan').text('\u03a9');
om.append('tspan').attr('dy', 7).attr('font-size', 18).text('c');
om.append('tspan').attr('dy', -7).attr('dx', 5).text('[s');
om.append('tspan').attr('dy', -11).attr('font-size', 15).text('-1');
om.append('tspan').attr('dy', 11).text(']');
svg.append('text').attr('x', 106).attr('y', 952).attr('font-size', 46).text('\u03b2');

// ---- legends ----
function legend(x0, y0, dy, colors, textX) {
    seriesNames.forEach(function (name, i) {
        var yy = y0 + dy * i;
        var c = colors[i];
        var g = svg.append('g');
        g.append('line').attr('x1', x0).attr('x2', x0 + 105).attr('y1', yy).attr('y2', yy)
            .attr('stroke', c.line).attr('stroke-width', 3);
        var type = seriesSymbols[i];
        var s = /triangle/.test(type) ? 9.5 : (type === 'plus' || type === 'cross' ? 10.5 : (type === 'diamondFill' ? 8.5 : 10));
        g.append('path').attr('transform', 'translate(' + (x0 + 52) + ',' + yy + ')')
            .attr('d', symbolPath(type, s))
            .attr('fill', isFilled(type) ? c.mark : 'none')
            .attr('stroke', c.mark).attr('stroke-width', 3);
        if (c.dot) {
            g.append('circle').attr('cx', x0 + 52).attr('cy', yy + 1).attr('r', 1.5).attr('fill', c.mark);
        }
        svg.append('text').attr('x', textX).attr('y', yy + 13).attr('font-size', 36).attr('fill', '#111').text(name);
    });
}
legend(656, 37.3, 38.1, seriesColors.map(function (c) { return { line: c, mark: c }; }), 786);
legend(739, 751.7, 44.95, seriesColors.map(function (c, i) {
    return i === 6 ? { line: grey, mark: '#000', dot: true } : { line: grey, mark: grey };
}), 867);

// ---- fragmentation colour bar ----
var grad = svg.append('defs').append('linearGradient').attr('id', 'frag').attr('x1', 0).attr('y1', 0).attr('x2', 0).attr('y2', 1);
grad.append('stop').attr('offset', '0%').attr('stop-color', '#000');
grad.append('stop').attr('offset', '100%').attr('stop-color', '#ababab');
svg.append('rect').attr('x', 617).attr('y', 753).attr('width', 10).attr('height', 349)
    .attr('fill', 'url(#frag)').attr('stroke', '#000').attr('stroke-width', 1);
svg.append('line').attr('x1', 640).attr('y1', 1095).attr('x2', 640).attr('y2', 782)
    .attr('stroke', '#000').attr('stroke-width', 2.5);
svg.append('path').attr('d', 'M640,773L634,788H646Z').attr('fill', '#000');
svg.append('text').attr('transform', 'translate(660,928) rotate(90)').attr('text-anchor', 'middle')
    .attr('font-size', 44).attr('fill', '#111').text('fragmentation');

// ---- neighbouring figure fragments on the right edge ----
svg.append('text').attr('x', 1045).attr('y', 19).attr('font-size', 18).attr('fill', '#333').text('\u03b2');
[122, 329, 536].forEach(function (yy) {
    svg.append('text').attr('x', 1035).attr('y', yy).attr('font-size', 22).attr('fill', '#333').text('10');
});
svg.append('line').attr('x1', 0).attr('x2', W).attr('y1', 1160.5).attr('y2', 1160.5)
    .attr('stroke', '#5ab2e4').attr('stroke-width', 2);
</script>
</body>
</html>
